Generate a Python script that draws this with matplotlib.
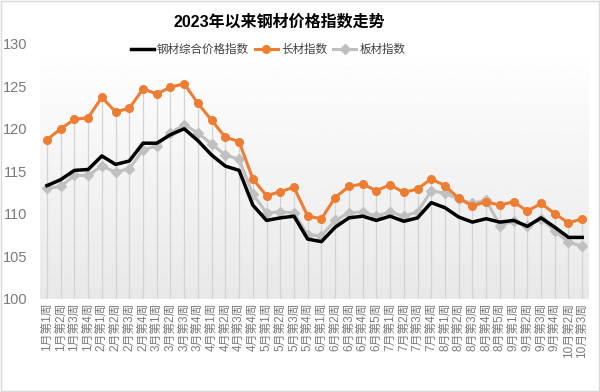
import numpy as np
import matplotlib
matplotlib.use("Agg")
import matplotlib.pyplot as plt
from matplotlib.patches import Rectangle

plt.rcParams['font.family'] = ['Liberation Sans', 'Noto Sans CJK SC', 'DejaVu Sans']

# === 数据 ===
weeks_per_month = [("1月", 4), ("2月", 4), ("3月", 4), ("4月", 4), ("5月", 4),
                   ("6月", 5), ("7月", 4), ("8月", 5), ("9月", 4)]
labels = [f"{m}第{k}周" for m, n in weeks_per_month for k in range(1, n + 1)]
labels += ["10月第2周", "10月第3周"]

steel = [113.3, 114.0, 115.1, 115.2, 116.8, 115.8, 116.2, 118.3, 118.3, 119.3,
         120.0, 118.6, 116.9, 115.6, 115.1, 111.0, 109.2, 109.5, 109.7, 107.0,
         106.7, 108.4, 109.5, 109.7, 109.2, 109.7, 109.1, 109.5, 111.3, 110.7,
         109.6, 109.0, 109.4, 109.0, 109.2, 108.5, 109.5, 108.4, 107.2, 107.2]
long_steel = [118.7, 120.0, 121.1, 121.3, 123.7, 122.0, 122.4, 124.7, 124.1, 124.9,
              125.3, 123.0, 121.0, 119.0, 118.5, 114.1, 112.1, 112.6, 113.1, 109.7,
              109.4, 111.9, 113.2, 113.5, 112.7, 113.4, 112.5, 112.9, 114.1, 113.3,
              111.8, 110.9, 111.4, 111.0, 111.4, 110.3, 111.2, 110.0, 108.9, 109.4]
plate = [113.0, 113.2, 114.5, 114.5, 115.6, 114.9, 115.3, 117.5, 118.0, 119.5,
         120.5, 119.5, 118.2, 116.9, 116.4, 112.3, 110.1, 110.2, 110.1, 107.5,
         107.4, 109.2, 110.1, 110.2, 109.7, 110.2, 109.7, 110.2, 112.7, 112.4,
         111.7, 111.2, 111.6, 108.6, 109.1, 108.5, 109.4, 108.0, 106.6, 106.2]

x = np.arange(len(labels))

fig = plt.figure(figsize=(6, 3.92), dpi=100)
fig.patch.set_facecolor("white")
fig.patches.append(Rectangle((0.002, 0.002), 0.996, 0.995, transform=fig.transFigure,
                             fill=False, edgecolor="#d9d9d9", linewidth=1))

ax = fig.add_axes([0.0668, 0.2385, 0.915, 0.6495])
ax.set_xlim(-0.5, len(labels) - 0.5)
ax.set_ylim(100, 130)

# 背景渐变
grad = np.linspace(1.0, 0.91, 256).reshape(-1, 1)
ax.imshow(grad, cmap="gray", vmin=0, vmax=1, aspect="auto",
          extent=(-0.5, len(labels) - 0.5, 100, 130), origin="upper", zorder=0)

# 垂直线 (drop lines)
tops = np.maximum(np.maximum(steel, long_steel), plate)
ax.vlines(x, 100, tops, color="#d3d3d3", linewidth=0.9, zorder=1)

ax.plot(x, plate, color="#c0c0c0", linewidth=2.2, marker="D", markersize=5,
        label="板材指数", zorder=3)
ax.plot(x, long_steel, color="#ed7d31", linewidth=2.2, marker="o", markersize=5.5,
        label="长材指数", zorder=4)
ax.plot(x, steel, color="black", linewidth=2.5, label="钢材综合价格指数", zorder=5)

for s in ax.spines.values():
    s.set_visible(False)
ax.set_yticks(range(100, 131, 5))
ax.tick_params(axis="y", length=0, labelsize=10.5, colors="#7a7a7a", pad=9)
ax.set_xticks(x)
ax.set_xticklabels(labels, rotation=90, fontsize=8.5, color="#7a7a7a")
ax.tick_params(axis="x", length=0, pad=3)

fig.text(0.465, 0.943, "2023年以来钢材价格指数走势", ha="center", va="center",
         fontsize=11.5, fontweight="bold", color="black")

h, l = ax.get_legend_handles_labels()
order = [2, 1, 0]
fig.legend([h[i] for i in order], [l[i] for i in order], loc="center",
           bbox_to_anchor=(0.447, 0.872), ncol=3, frameon=False, fontsize=8.3,
           handlelength=2.0, handletextpad=0.3, columnspacing=0.5,
           labelcolor="#404040")

fig.savefig("out.png", dpi=100)
